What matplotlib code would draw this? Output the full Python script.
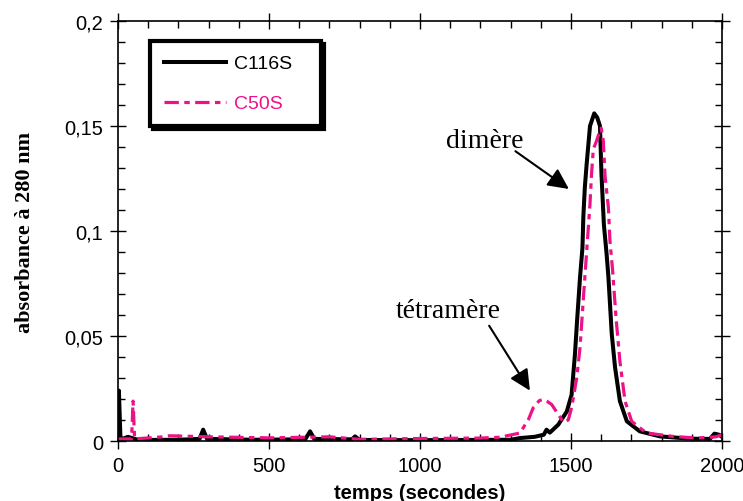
import matplotlib
matplotlib.use("Agg")
import matplotlib.pyplot as plt
from matplotlib.ticker import MultipleLocator, FuncFormatter

# --- data (temps en s, absorbance) ---
c116s_t = [0, 3, 8, 15, 33, 60, 100, 200, 270, 282, 295, 450, 620, 636, 650,
           775, 785, 800, 1000, 1300, 1331, 1380, 1410, 1419, 1430, 1458, 1486,
           1502, 1513, 1521, 1530, 1538, 1541, 1546, 1552, 1563, 1577, 1587,
           1596, 1601, 1609, 1618, 1624, 1635, 1646, 1662, 1685, 1728, 1795,
           1894, 1960, 1975, 1990, 2000]
c116s_a = [0.001, 0.024, 0.002, 0.001, 0.002, 0.0008, 0.0005, 0.0006, 0.001,
           0.0054, 0.001, 0.0006, 0.0008, 0.0046, 0.001, 0.0008, 0.0022,
           0.0005, 0.0004, 0.0006, 0.0014, 0.002, 0.003, 0.0054, 0.004, 0.0078,
           0.014, 0.022, 0.041, 0.059, 0.078, 0.092, 0.107, 0.121, 0.132, 0.150,
           0.156, 0.154, 0.150, 0.127, 0.103, 0.089, 0.078, 0.051, 0.035, 0.019,
           0.0094, 0.0046, 0.0022, 0.0011, 0.001, 0.0035, 0.003, 0.002]

c50s_t = [0, 45, 50, 55, 150, 170, 300, 500, 700, 800, 1000, 1200, 1265, 1331,
          1359, 1375, 1395, 1408, 1420, 1436, 1458, 1475, 1491, 1502, 1519,
          1530, 1539, 1546, 1563, 1568, 1574, 1585, 1596, 1600, 1607, 1613,
          1624, 1629, 1638, 1649, 1662, 1679, 1701, 1750, 1838, 1916, 1980, 2000]
c50s_a = [0.001, 0.001, 0.019, 0.001, 0.002, 0.0025, 0.002, 0.0015, 0.002,
          0.0008, 0.0012, 0.0014, 0.0018, 0.0038, 0.0102, 0.0158, 0.0192,
          0.0198, 0.019, 0.0174, 0.0126, 0.009, 0.010, 0.0158, 0.030, 0.0445,
          0.0636, 0.078, 0.113, 0.127, 0.139, 0.143, 0.148, 0.149, 0.143, 0.126,
          0.111, 0.0955, 0.081, 0.059, 0.038, 0.019, 0.0094, 0.0038, 0.0022,
          0.0014, 0.002, 0.003]

PINK = "#ee1289"

fig = plt.figure(figsize=(7.43, 5.02), dpi=100)
ax = fig.add_axes([0.1588, 0.1195, 0.8129, 0.8367])

ax.plot(c116s_t, c116s_a, color="black", lw=2.9, label="C116S   ")
ax.plot(c50s_t, c50s_a, color=PINK, lw=2.3, ls=(0, (4.5, 1.7, 1.7, 1.7)),
        label="C50S")

ax.set_xlim(0, 2000)
ax.set_ylim(0, 0.2)
ax.xaxis.set_major_locator(MultipleLocator(500))
ax.xaxis.set_minor_locator(MultipleLocator(100))
ax.yaxis.set_major_locator(MultipleLocator(0.05))
ax.yaxis.set_minor_locator(MultipleLocator(0.01))
ax.yaxis.set_major_formatter(FuncFormatter(lambda v, p: ("%g" % v).replace(".", ",")))

ax.tick_params(which="major", direction="inout", length=11, width=1,
               top=True, right=True, labelsize=14.5, pad=5)
ax.tick_params(which="minor", direction="in", length=5, width=1,
               top=True, right=True)
for lab in ax.get_xticklabels() + ax.get_yticklabels():
    lab.set_family("Liberation Sans")
for sp in ax.spines.values():
    sp.set_linewidth(1.2)

ax.set_xlabel("temps (secondes)", fontsize=14.5, fontweight="bold",
              family="Liberation Sans")
ax.xaxis.set_label_coords(0.5, -0.1)
ax.set_ylabel("absorbance à 280 nm", fontsize=16, fontweight="bold",
              family="Liberation Serif")
ax.yaxis.set_label_coords(-0.138, 0.5)

# annotations
arrow = dict(arrowstyle="-|>,head_length=0.45,head_width=0.22",
             color="black", lw=1.5, mutation_scale=28, shrinkA=0, shrinkB=0)
ax.text(1215, 0.140, "dimère", fontsize=20, family="Liberation Serif",
        ha="center", va="baseline")
ax.annotate("", xy=(1493, 0.120), xytext=(1316, 0.138), arrowprops=arrow)
ax.text(1093, 0.059, "tétramère", fontsize=20, family="Liberation Serif",
        ha="center", va="baseline")
ax.annotate("", xy=(1364, 0.024), xytext=(1229, 0.0549), arrowprops=arrow)

leg = ax.legend(loc="upper left", bbox_to_anchor=(0.053, 0.952),
                borderaxespad=0, fancybox=False, edgecolor="black",
                framealpha=1, shadow={"color": "black", "alpha": 1},
                prop={"family": "Liberation Sans", "size": 14},
                handlelength=3.2, handletextpad=0.4, borderpad=0.7,
                labelspacing=1.15)
leg.get_frame().set_linewidth(3)
leg.get_texts()[1].set_color(PINK)

fig.savefig("out.png", dpi=100)
